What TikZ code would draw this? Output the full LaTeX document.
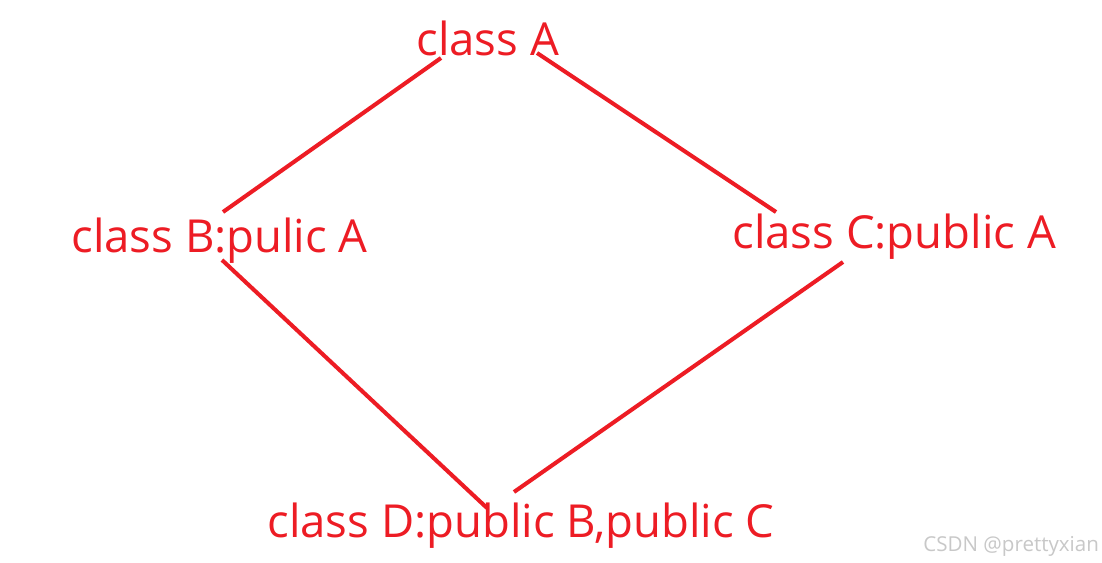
\documentclass[tikz,border=0pt]{standalone}
\usepackage{fontspec}
\setmainfont{Open Sans}
\definecolor{lblred}{HTML}{ED1C24}
\definecolor{wmgrey}{HTML}{C8C8C8}
\begin{document}
\begin{tikzpicture}[x=0.02cm,y=-0.02cm,
  lbl/.style={inner sep=0pt,anchor=base west,text=lblred,font=\fontsize{25.9}{30}\selectfont},
  wm/.style={inner sep=0pt,anchor=base west,text=wmgrey,font=\fontsize{11.7}{14}\selectfont},
  link/.style={draw=lblred,line width=2.3pt}]
\useasboundingbox[fill=white] (0,0) rectangle (1102,563);
\node[lbl] (A) at (416,56) {class A};
\node[lbl] (B) at (71,253) {class B:pulic A};
\node[lbl] (C) at (732,249) {class C:public A};
\node[lbl] (D) at (267,538) {class D:public B,public C};
\node[wm] (W) at (923,551) {CSDN @prettyxian};
\coordinate (a1) at (441,58);
\coordinate (a2) at (537,53);
\coordinate (b1) at (223,212);
\coordinate (b2) at (222,260);
\coordinate (c1) at (776,212);
\coordinate (c2) at (843,262);
\coordinate (d1) at (487,508);
\coordinate (d2) at (514,492);
\draw[link] (a1) -- (b1);
\draw[link] (a2) -- (c1);
\draw[link] (b2) -- (d1);
\draw[link] (c2) -- (d2);
\end{tikzpicture}
\end{document}
